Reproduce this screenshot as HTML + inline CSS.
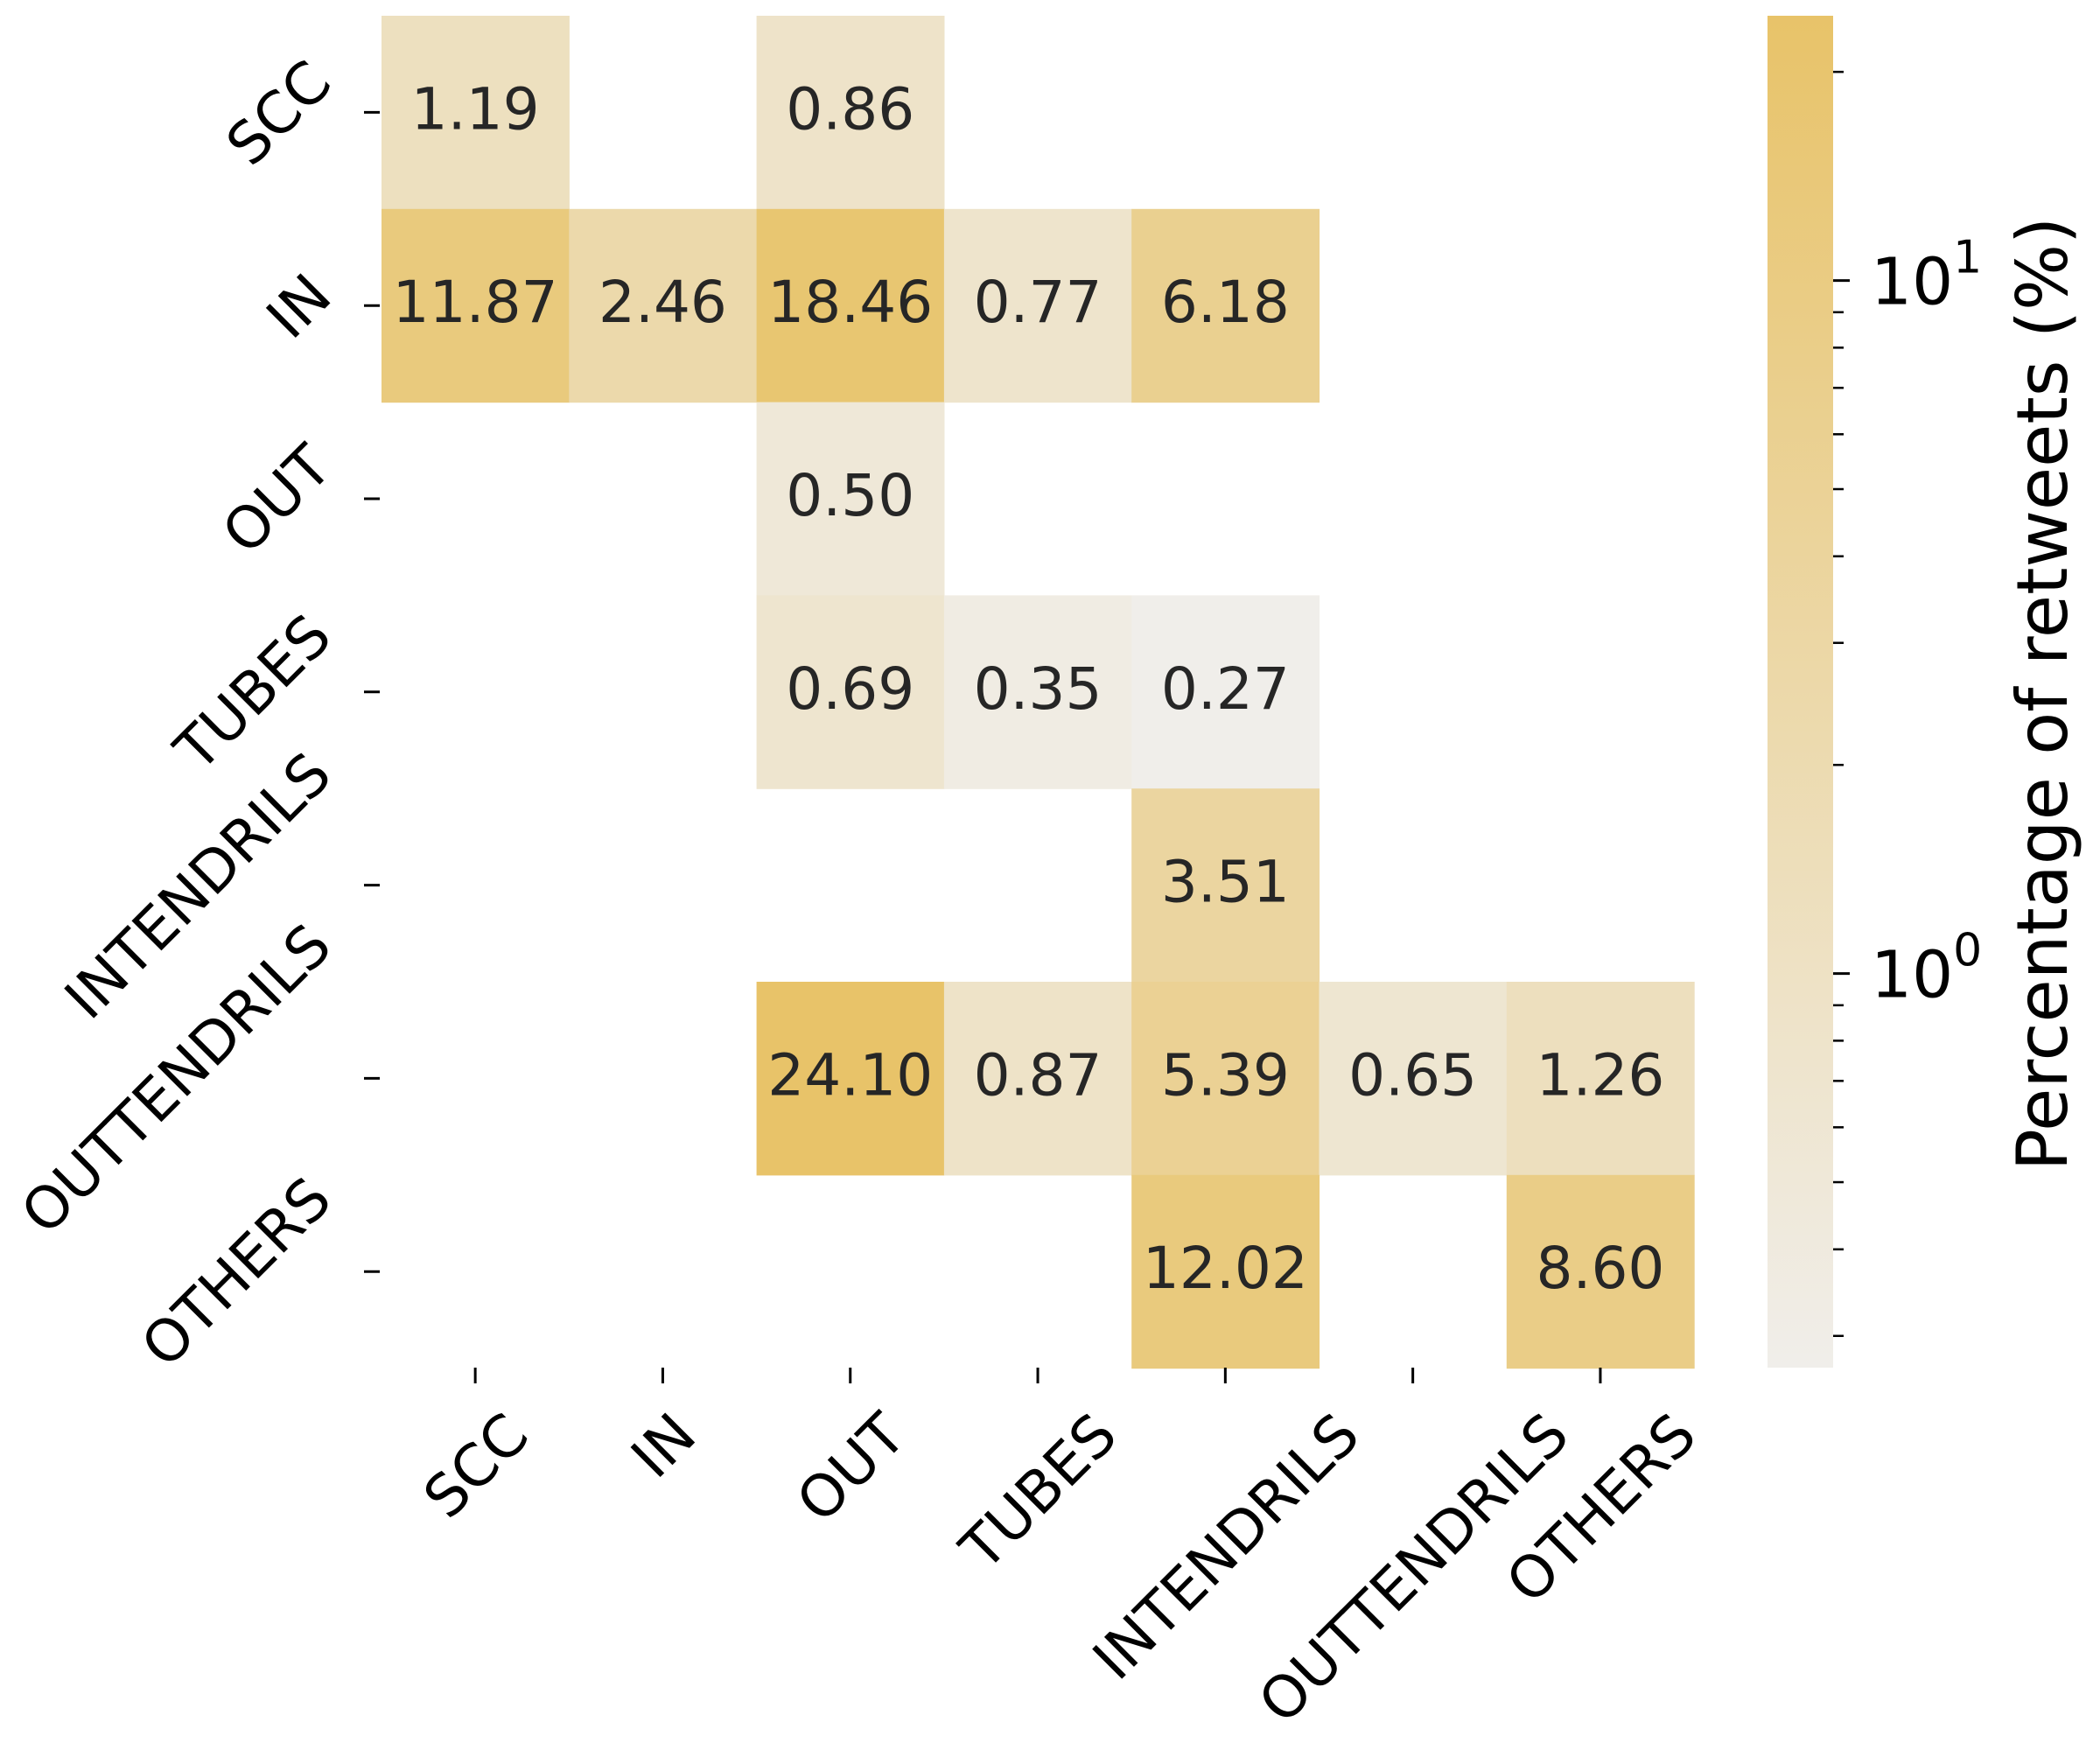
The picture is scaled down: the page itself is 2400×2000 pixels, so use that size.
<!DOCTYPE html>
<html><head><meta charset="utf-8"><style>
html,body{margin:0;padding:0;background:#fff;}
svg{display:block;font-family:"DejaVu Sans","Liberation Sans",sans-serif;}
</style></head><body>
<svg id="chart" width="2400" height="2000" viewBox="0 0 2400 2000" xmlns="http://www.w3.org/2000/svg">
<defs><linearGradient id="cbg" x1="0" y1="1" x2="0" y2="0"><stop offset="0" stop-color="rgb(240,238,234)"/><stop offset="1" stop-color="rgb(232,195,105)"/></linearGradient></defs>
<g id="cells"></g>
<g id="axes"></g>
<g id="cbar"></g>
</svg>
<script>
const categories = ["SCC","IN","OUT","TUBES","INTENDRILS","OUTTENDRILS","OTHERS"];
const rowSCC = [1.19,null,0.86,null,null,null,null];
const rowIN = [11.87,2.46,18.46,0.77,6.18,null,null];
const rowOUT = [null,null,0.50,null,null,null,null];
const rowTUBES = [null,null,0.69,0.35,0.27,null,null];
const rowINTENDRILS = [null,null,null,null,3.51,null,null];
const rowOUTTENDRILS = [null,null,24.10,0.87,5.39,0.65,1.26];
const rowOTHERS = [null,null,null,null,12.02,null,8.60];
const matrix = [rowSCC,rowIN,rowOUT,rowTUBES,rowINTENDRILS,rowOUTTENDRILS,rowOTHERS];
const vmin = 0.27, vmax = 24.10;
const majorTicks = [1,10];
const minorTicks = [0.3,0.4,0.5,0.6,0.7,0.8,0.9,2,3,4,5,6,7,8,9,20];

const NS="http://www.w3.org/2000/svg";
function mk(tag,attrs,parent){const e=document.createElementNS(NS,tag);for(const k in attrs)e.setAttribute(k,attrs[k]);parent.appendChild(e);return e;}
const L=436,T=18,CW=214.3,RH=220.8;
const xPos=i=>L+i*CW, yPos=i=>T+i*RH;
const cbTop=18,cbBot=1563,cbL=2020,cbR=2095;
const cbY=v=>cbBot-(Math.log10(v)-Math.log10(vmin))/(Math.log10(vmax)-Math.log10(vmin))*(cbBot-cbTop);
const c0=[240,238,234],c1=[232,195,105];
function color(v){let t=(Math.log10(v)-Math.log10(vmin))/(Math.log10(vmax)-Math.log10(vmin));t=Math.max(0,Math.min(1,t));return "rgb("+c0.map((a,i)=>Math.round(a+(c1[i]-a)*t)).join(",")+")";}
const cells=document.getElementById('cells');
matrix.forEach((row,r)=>row.forEach((v,c)=>{
  if(v===null)return;
  const g=mk('g',{},cells);
  
  
  mk('rect',{x:xPos(c),y:yPos(r),width:CW+0.6,height:RH+0.6,fill:color(v)},g);
  const t=mk('text',{x:xPos(c)+CW/2,y:yPos(r)+RH/2+19,'text-anchor':'middle','font-size':66,fill:'#262626'},g);
  t.textContent=v.toFixed(2);
}));
const axes=document.getElementById('axes');
const R2=Math.SQRT2;
categories.forEach((name,i)=>{
  const cy=yPos(i)+RH/2;
  const yt=mk('line',{x1:416,x2:434,y1:cy,y2:cy,stroke:'#000','stroke-width':3},axes);
  
  
  const yl=mk('text',{'font-size':66,'text-anchor':'middle',fill:'#000'},axes);
  
  
  yl.textContent=name;
  const w=yl.getComputedTextLength(),h=48;
  const cx=382-(w+h)/(2*R2);
  yl.setAttribute('x',cx);yl.setAttribute('y',cy+24);
  yl.setAttribute('transform','rotate(-45 '+cx+' '+cy+')');
  const cx2=xPos(i)+CW/2;
  const xt=mk('line',{x1:cx2,x2:cx2,y1:1563,y2:1581,stroke:'#000','stroke-width':3},axes);
  
  
  const xl=mk('text',{'font-size':66,'text-anchor':'middle',fill:'#000'},axes);
  
  
  xl.textContent=name;
  const w2=xl.getComputedTextLength();
  const ccy=1610+(w2+h)/(2*R2);
  xl.setAttribute('x',cx2);xl.setAttribute('y',ccy+24);
  xl.setAttribute('transform','rotate(-45 '+cx2+' '+ccy+')');
});
const cb=document.getElementById('cbar');
const bar=mk('rect',{x:cbL,y:cbTop,width:cbR-cbL,height:cbBot-cbTop,fill:'url(#cbg)'},cb);


minorTicks.forEach(v=>{const y=cbY(v);const l=mk('line',{x1:cbR,x2:cbR+12,y1:y,y2:y,stroke:'#000','stroke-width':2.5},cb);
  
  });
majorTicks.forEach(v=>{const y=cbY(v);const l=mk('line',{x1:cbR,x2:cbR+19,y1:y,y2:y,stroke:'#000','stroke-width':3},cb);
  
  
  const t=mk('text',{x:2138,y:y+27,'font-size':74,fill:'#000'},cb);
  
  
  t.textContent='10';
  const s=mk('tspan',{dy:-36,'font-size':52},t);s.textContent=String(Math.round(Math.log10(v)));});
const title=mk('text',{x:0,y:0,'font-size':80,'text-anchor':'middle',fill:'#000',transform:'translate(2362 793) rotate(-90)'},cb);


title.textContent='Percentage of retweets (%)';
</script>
</body></html>
